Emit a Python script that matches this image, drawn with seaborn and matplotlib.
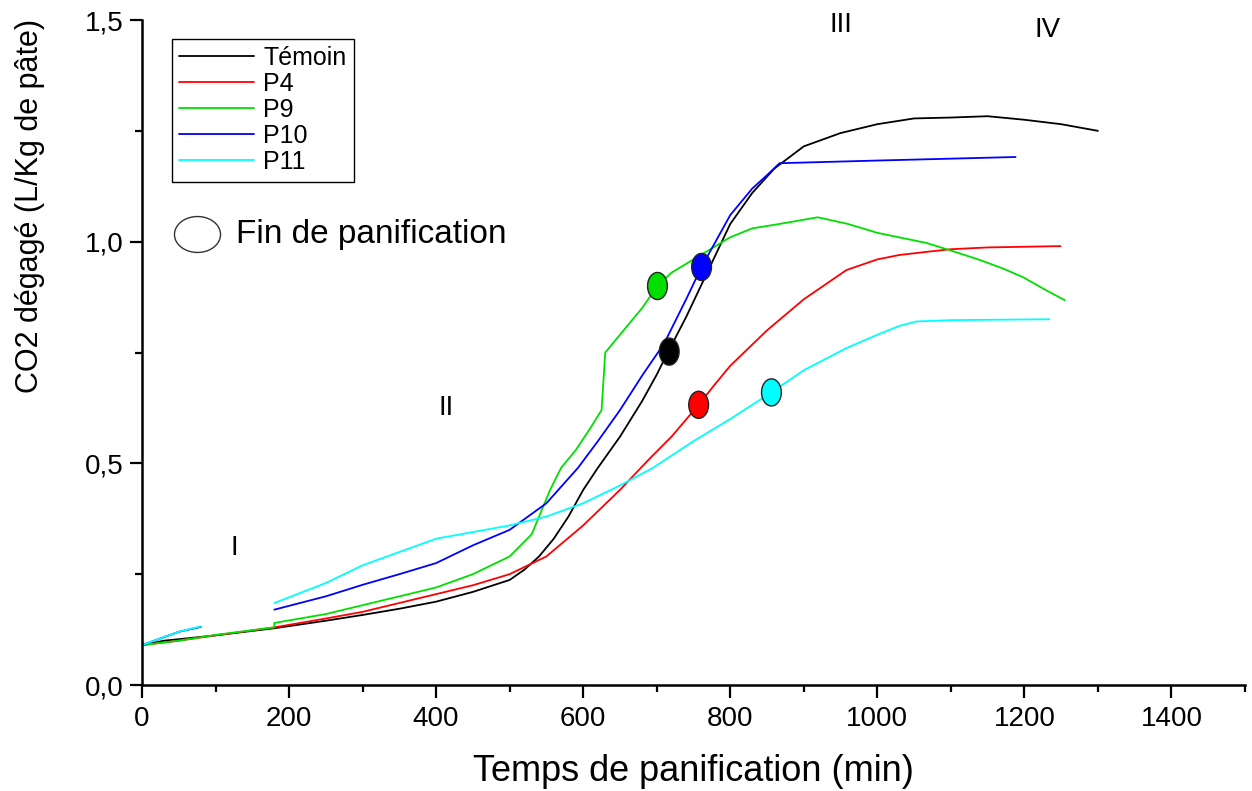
import numpy as np
import pandas as pd
import matplotlib
matplotlib.use("Agg")
import matplotlib.pyplot as plt
import seaborn as sns
from matplotlib.path import Path
from matplotlib.ticker import MultipleLocator, FuncFormatter

# ---------------- data ----------------
series_names = ["Témoin", "P4", "P9", "P10", "P11"]
series_colors = ["#000000", "#ff0000", "#00e000", "#0000ff", "#00ffff"]

temoin_x = [0, 30, 60, 100, 140, 180, 250, 300, 350, 400, 450, 500, 520, 540, 560,
            580, 600, 620, 650, 680, 700, 715, 740, 760, 780, 800, 830, 860, 900,
            950, 1000, 1050, 1100, 1150, 1200, 1250, 1300]
temoin_y = [0.09, 0.10, 0.105, 0.112, 0.12, 0.128, 0.145, 0.158, 0.172, 0.188, 0.21,
            0.237, 0.26, 0.29, 0.33, 0.38, 0.44, 0.49, 0.56, 0.64, 0.70, 0.75, 0.83,
            0.90, 0.97, 1.04, 1.11, 1.165, 1.215, 1.245, 1.265, 1.278, 1.28, 1.283,
            1.275, 1.265, 1.25]

p4_x = [0, 50, 100, 180, 250, 300, 350, 400, 450, 500, 550, 600, 650, 690, 720, 757,
        780, 800, 850, 900, 958, 1000, 1030, 1067, 1100, 1150, 1249]
p4_y = [0.09, 0.10, 0.112, 0.13, 0.15, 0.165, 0.185, 0.205, 0.225, 0.25, 0.29, 0.36,
        0.44, 0.51, 0.56, 0.632, 0.68, 0.72, 0.80, 0.87, 0.936, 0.96, 0.97, 0.977,
        0.983, 0.987, 0.99]

p9_x = [0, 50, 100, 180, 180, 250, 300, 350, 400, 450, 500, 530, 555, 570, 590, 610,
        625, 630, 640, 660, 680, 701, 720, 750, 780, 800, 830, 867, 919, 960, 1000,
        1067, 1100, 1139, 1170, 1198, 1230, 1255]
p9_y = [0.09, 0.10, 0.113, 0.13, 0.14, 0.16, 0.18, 0.20, 0.22, 0.25, 0.29, 0.34, 0.44,
        0.49, 0.53, 0.58, 0.62, 0.75, 0.77, 0.81, 0.85, 0.90, 0.93, 0.96, 0.99, 1.01,
        1.03, 1.04, 1.055, 1.04, 1.02, 0.997, 0.98, 0.959, 0.94, 0.92, 0.89, 0.868]

p10_x1 = [0, 25, 50, 80]
p10_y1 = [0.09, 0.105, 0.12, 0.131]
p10_x2 = [180, 250, 300, 350, 400, 450, 500, 550, 593, 620, 650, 681, 710, 740, 761,
          780, 800, 830, 850, 867, 1000, 1188]
p10_y2 = [0.17, 0.20, 0.226, 0.25, 0.275, 0.315, 0.35, 0.41, 0.49, 0.55, 0.62, 0.70,
          0.77, 0.87, 0.943, 1.0, 1.06, 1.12, 1.15, 1.177, 1.183, 1.191]

p11_x1 = [0, 25, 50, 80]
p11_y1 = [0.09, 0.105, 0.12, 0.132]
p11_x2 = [180, 250, 300, 350, 400, 450, 500, 550, 600, 650, 695, 750, 800, 856, 900,
          958, 1000, 1030, 1053, 1100, 1234]
p11_y2 = [0.185, 0.23, 0.27, 0.30, 0.33, 0.345, 0.36, 0.38, 0.41, 0.45, 0.49, 0.55,
          0.60, 0.66, 0.71, 0.76, 0.79, 0.81, 0.82, 0.823, 0.825]

# end of bread-making points
fin_x = [717, 757, 701, 761, 856]
fin_y = [0.752, 0.632, 0.90, 0.943, 0.66]

phase_labels = ["I", "II", "III", "IV"]
phase_x = [126, 413, 951, 1231]
phase_y = [0.309, 0.625, 1.489, 1.478]

# ---------------- build long table ----------------
segments = [
    ("Témoin", temoin_x, temoin_y),
    ("P4", p4_x, p4_y),
    ("P9", p9_x, p9_y),
    ("P10", p10_x1, p10_y1),
    ("P10", p10_x2, p10_y2),
    ("P11", p11_x1, p11_y1),
    ("P11", p11_x2, p11_y2),
]
rows = []
for k, (name, xs, ys) in enumerate(segments):
    for xv, yv in zip(xs, ys):
        rows.append((xv, yv, name, f"{name}-{k}"))
df = pd.DataFrame(rows, columns=["t", "co2", "serie", "seg"])

palette = dict(zip(series_names, series_colors))

sns.set_theme(style="ticks")
plt.rcParams['font.family'] = ['Liberation Sans', 'DejaVu Sans']
plt.rcParams['axes.linewidth'] = 1.8
plt.rcParams['text.color'] = 'black'
plt.rcParams['axes.labelcolor'] = 'black'
plt.rcParams['xtick.color'] = 'black'
plt.rcParams['ytick.color'] = 'black'
plt.rcParams['axes.edgecolor'] = 'black'

fig = plt.figure(figsize=(12.52, 7.91), dpi=100)
ax = fig.add_axes([0.1134, 0.134, 0.881, 0.8407])

sns.lineplot(data=df, x="t", y="co2", hue="serie", units="seg", estimator=None,
             sort=False, palette=palette, hue_order=series_names, linewidth=1.3,
             ax=ax, legend=True)

# ellipse markers
th = np.linspace(0, 2 * np.pi, 80)
tall = Path(np.column_stack([0.73 * np.cos(th), np.sin(th)]), closed=True)
wide = Path(np.column_stack([np.cos(th), 0.78 * np.sin(th)]), closed=True)

ax.scatter(fin_x, fin_y, marker=tall, s=380, c=series_colors, edgecolors="#222222",
           linewidths=1.0, zorder=5)

# key for "Fin de panification"
ax.scatter([0.0499], [0.678], marker=wide, s=1100, facecolors="white",
           edgecolors="#333333", linewidths=1.0, transform=ax.transAxes, zorder=5,
           clip_on=False)
ax.text(0.0852, 0.678, "Fin de panification", transform=ax.transAxes,
        fontsize=24, ha="left", va="center", color="black")

for lab, xv, yv in zip(phase_labels, phase_x, phase_y):
    ax.text(xv, yv, lab, fontsize=20, ha="center", va="center", color="black")

ax.set_xlim(0, 1500)
ax.set_ylim(0, 1.5)
ax.xaxis.set_major_locator(MultipleLocator(200))
ax.xaxis.set_minor_locator(MultipleLocator(100))
ax.yaxis.set_major_locator(MultipleLocator(0.5))
ax.yaxis.set_minor_locator(MultipleLocator(0.25))
ax.yaxis.set_major_formatter(FuncFormatter(lambda v, p: f"{v:.1f}".replace(".", ",")))
ax.xaxis.set_major_formatter(FuncFormatter(lambda v, p: f"{v:.0f}" if v <= 1400 else ""))

ax.tick_params(axis="both", which="major", direction="out", length=9, width=1.6,
               colors="black", labelsize=20)
ax.tick_params(axis="both", which="minor", direction="out", length=5, width=1.6,
               colors="black")
ax.tick_params(axis="x", pad=6)
ax.tick_params(axis="y", pad=4)

ax.set_xlabel("Temps de panification (min)", fontsize=26, color="black")
ax.set_ylabel("CO2 dégagé (L/Kg de pâte)", fontsize=22, color="black")
ax.xaxis.set_label_coords(0.5, -0.104)
ax.yaxis.set_label_coords(-0.088, 0.72)
sns.despine(ax=ax)
for s in ["left", "bottom"]:
    ax.spines[s].set_color("black")
    ax.spines[s].set_linewidth(1.8)

handles, labels = ax.get_legend_handles_labels()
leg = ax.legend(handles, labels, loc="upper left", bbox_to_anchor=(0.027, 0.972),
                frameon=True, fancybox=False, edgecolor="black", framealpha=1,
                fontsize=18, handlelength=3.0, labelspacing=0.08, borderpad=0.3,
                handletextpad=0.35, borderaxespad=0)
leg.get_frame().set_linewidth(1.0)
for t in leg.get_texts():
    t.set_color("black")
for h in leg.get_lines():
    h.set_linewidth(1.3)

fig.savefig("out.png", dpi=100)
